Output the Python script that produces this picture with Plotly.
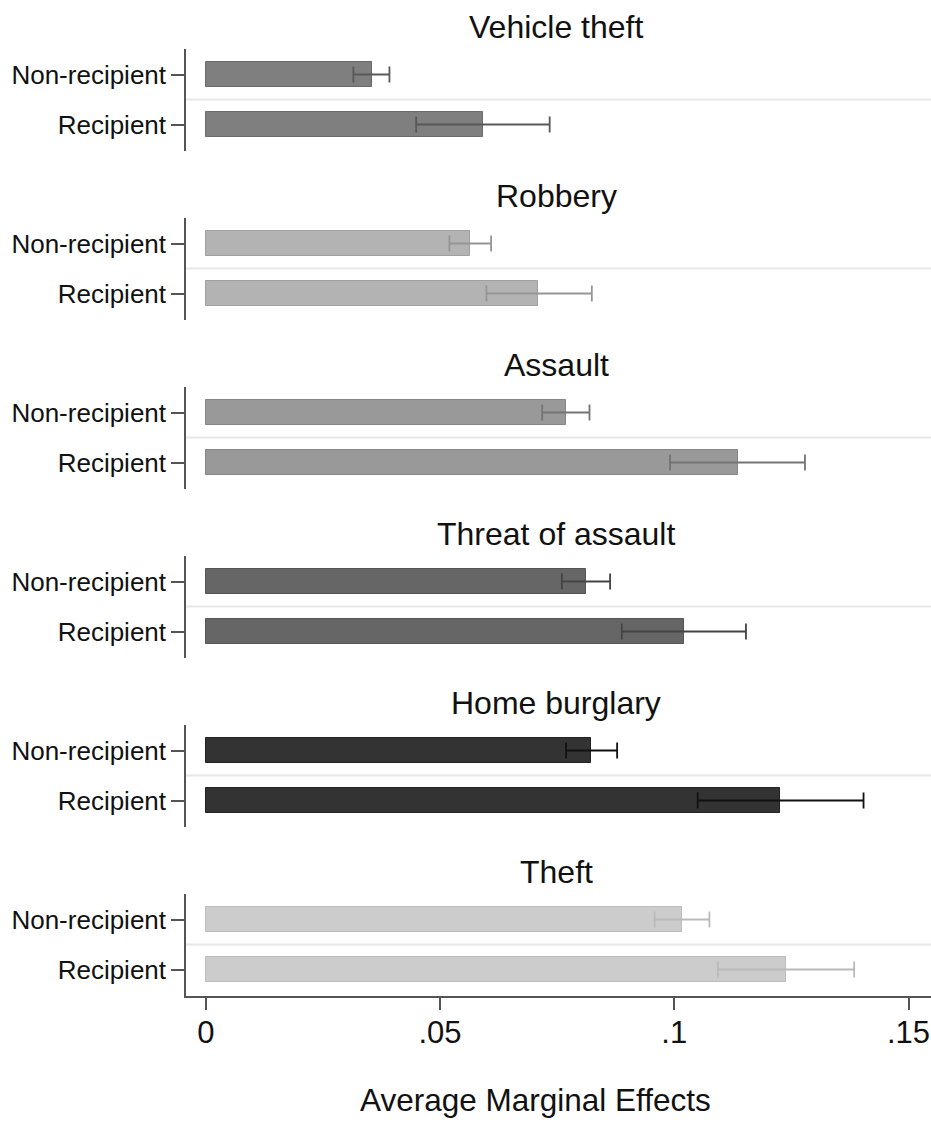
import plotly.graph_objects as go

# Average marginal effects by crime type, split by recipient status
crimes = ["Vehicle theft", "Robbery", "Assault", "Threat of assault", "Home burglary", "Theft"]
groups = ["Non-recipient", "Recipient"]

nonrecip_est = [0.0355, 0.0564, 0.0769, 0.0811, 0.0823, 0.1017]
nonrecip_lo = [0.0315, 0.0520, 0.0718, 0.0760, 0.0769, 0.0958]
nonrecip_hi = [0.0392, 0.0609, 0.0819, 0.0863, 0.0878, 0.1075]

recip_est = [0.0591, 0.0710, 0.1136, 0.1020, 0.1226, 0.1238]
recip_lo = [0.0449, 0.0599, 0.0991, 0.0888, 0.1050, 0.1093]
recip_hi = [0.0734, 0.0824, 0.1279, 0.1153, 0.1404, 0.1384]

x_ticks = [0, 0.05, 0.1, 0.15]
x_tick_text = ["0", ".05", ".1", ".15"]

bar_colors = ["#7f7f7f", "#b3b3b3", "#999999", "#666666", "#333333", "#cccccc"]
edge_colors = ["#6a6a6a", "#a0a0a0", "#858585", "#555555", "#222222", "#bdbdbd"]
err_colors = ["#585858", "#959595", "#747474", "#444444", "#111111", "#bababa"]

W, H = 931, 1133
panel_top0 = 49
panel_h = 102
panel_pitch = 169
plot_left = 186

FONT = "Liberation Sans, Arial, sans-serif"
TXT = "#111111"

fig = go.Figure()
shapes = []
annotations = []
layout_axes = {}

for i, crime in enumerate(crimes):
    n = i + 1
    xa = "x" if n == 1 else f"x{n}"
    ya = "y" if n == 1 else f"y{n}"
    vals = [nonrecip_est[i], recip_est[i]]
    lo = [nonrecip_lo[i], recip_lo[i]]
    hi = [nonrecip_hi[i], recip_hi[i]]
    fig.add_trace(go.Bar(
        x=vals, y=groups, orientation="h", width=0.5,
        marker=dict(color=bar_colors[i], line=dict(color=edge_colors[i], width=1)),
        error_x=dict(type="data", symmetric=False,
                     array=[h - v for h, v in zip(hi, vals)],
                     arrayminus=[v - l for v, l in zip(vals, lo)],
                     color=err_colors[i], thickness=1.8, width=8),
        xaxis=xa, yaxis=ya, showlegend=False, hoverinfo="skip",
    ))

    top = panel_top0 + panel_pitch * i
    bottom = top + panel_h
    dom = [1 - bottom / H, 1 - top / H]
    last = (i == len(crimes) - 1)

    layout_axes["xaxis" if n == 1 else f"xaxis{n}"] = dict(
        domain=[plot_left / W, 1], anchor=ya, range=[-0.00423, 0.1548],
        showgrid=False, zeroline=False, visible=last,
        showline=last, linecolor="#555555", linewidth=1.5,
        ticks="outside" if last else "", ticklen=12, tickwidth=1.5, tickcolor="#555555",
        tickvals=x_ticks, ticktext=x_tick_text, ticklabelstandoff=-4,
        tickfont=dict(family=FONT, size=31, color=TXT),
    )
    layout_axes["yaxis" if n == 1 else f"yaxis{n}"] = dict(
        domain=dom, anchor=xa, type="category",
        categoryorder="array", categoryarray=["Recipient", "Non-recipient"],
        range=[-0.53, 1.51], showgrid=False, zeroline=False,
        showline=True, linecolor="#555555", linewidth=1.5,
        ticks="outside", ticklen=13, tickwidth=1.5, tickcolor="#555555",
        tickfont=dict(family=FONT, size=26, color=TXT),
    )

    # light separator between the two groups
    shapes.append(dict(type="line", xref=f"{xa} domain", yref=ya,
                       x0=0, x1=1, y0=0.5, y1=0.5, layer="below",
                       line=dict(color="#e8e8e8", width=2)))

    annotations.append(dict(text=crime, xref="paper", yref="paper",
                            x=556 / W, y=1 - (top - 22) / H,
                            xanchor="center", yanchor="middle", showarrow=False,
                            font=dict(family=FONT, size=32, color=TXT)))

annotations.append(dict(text="Average Marginal Effects", xref="paper", yref="paper",
                        x=535 / W, y=1 - 1100 / H, xanchor="center", yanchor="middle",
                        showarrow=False, font=dict(family=FONT, size=31.5, color=TXT)))

fig.update_layout(
    width=W, height=H, margin=dict(l=0, r=0, t=0, b=0),
    paper_bgcolor="white", plot_bgcolor="white",
    shapes=shapes, annotations=annotations, bargap=0,
    **layout_axes,
)

fig.write_html("out.html")
